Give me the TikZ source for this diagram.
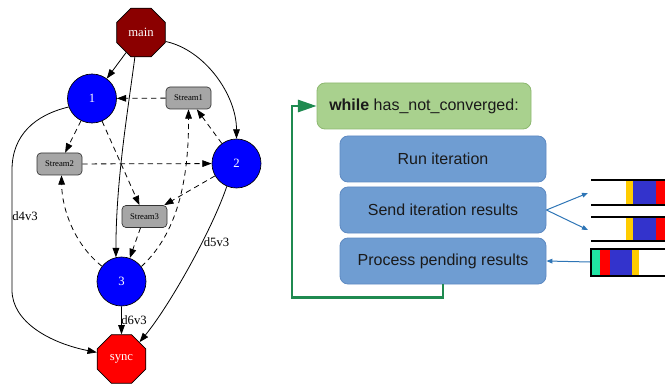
\documentclass[tikz,border=0pt]{standalone}
\usepackage{fontspec}
\setmainfont{Liberation Serif}
\newfontfamily\sansf{Liberation Sans}
\usetikzlibrary{shapes.geometric,arrows.meta}
\definecolor{mainred}{HTML}{8B0000}
\definecolor{streamgray}{HTML}{A6A6A6}
\definecolor{wfill}{HTML}{A9D18E}
\definecolor{wdraw}{HTML}{8DB870}
\definecolor{bfill}{HTML}{6F9DD2}
\definecolor{bdraw}{HTML}{5E8AC2}
\definecolor{loopgreen}{HTML}{1F8A50}
\definecolor{arrblue}{HTML}{2E75B6}
\definecolor{qyellow}{HTML}{FFCC00}
\definecolor{qblue}{HTML}{3333CC}
\definecolor{qred}{HTML}{FF0000}
\definecolor{qteal}{HTML}{20E3A3}
\definecolor{txtdark}{HTML}{1A1A1A}
\tikzset{
  oct/.style={regular polygon, regular polygon sides=8, minimum size=39.5pt, inner sep=0pt,
    draw=black, line width=0.5pt, text=white, font=\fontsize{9.5}{11}\selectfont},
  circ/.style={circle, minimum size=36.75pt, inner sep=0pt, draw=black, line width=0.5pt,
    fill=blue, text=white, font=\fontsize{9.5}{11}\selectfont},
  strm/.style={rectangle, rounded corners=3pt, minimum width=33.75pt, minimum height=16.5pt,
    inner sep=0pt, draw=black!80, line width=0.5pt, fill=streamgray, font=\fontsize{6.5}{7}\selectfont},
  gvarr/.style={line width=0.6pt, -{Triangle[length=7pt,width=5pt]}},
  gvdash/.style={gvarr, dash pattern=on 4pt off 3pt},
  elab/.style={font=\fontsize{9.5}{11}\selectfont, inner sep=0pt},
  whilebox/.style={rectangle, rounded corners=6pt, minimum width=160.5pt, minimum height=34.5pt,
    fill=wfill, draw=wdraw, line width=0.6pt, text=txtdark, font=\sansf\fontsize{12}{14}\selectfont},
  bluebox/.style={rectangle, rounded corners=6pt, minimum width=154.5pt, minimum height=34.5pt,
    fill=bfill, draw=bdraw, line width=0.6pt, text=txtdark, font=\sansf\fontsize{12}{14}\selectfont},
  greenloop/.style={draw=loopgreen, line width=2pt, -{Triangle[length=14pt,width=9pt]}},
  bluearr/.style={draw=arrblue, line width=0.75pt, -{Triangle[length=4.5pt,width=3.5pt]}},
  qline/.style={draw=black, line width=1.5pt},
}
\begin{document}
\begin{tikzpicture}[x=0.75pt,y=-0.75pt]
\useasboundingbox (0,0) rectangle (665,385);

% ---- graph nodes
\node[oct, fill=mainred] (main) at (141,32.5) {main};
\node[circ] (n1) at (92,98.5) {1};
\node[circ] (n2) at (236.5,163.5) {2};
\node[circ] (n3) at (121.5,281.5) {3};
\node[oct, fill=red] (sync) at (121.5,359) {sync};
\node[strm] (s1) at (188.5,98) {Stream1};
\node[strm] (s2) at (59.5,164) {Stream2};
\node[strm] (s3) at (144.5,216.5) {Stream3};

% ---- solid edges
\draw[gvarr] (main) -- (n1);
\draw[gvarr] (main.-104) .. controls (128,110) and (116,180) .. (n3.103);
\draw[gvarr] (main.-20) .. controls (205,50) and (236.5,95) .. (n2.north);
\draw[gvarr] (n1.-160) .. controls (35,115) and (12,135) .. (12,170) -- (12,290)
  .. controls (12,322) and (50,343) .. (sync.165);
\draw[gvarr] (n2.-113) .. controls (212,230) and (170,305) .. (sync.43);
\draw[gvarr] (n3) -- (sync);

% ---- edge labels
\node[elab] (l4) at (25,216) {d4v3};
\node[elab] (l5) at (216.5,242) {d5v3};
\node[elab] (l6) at (134,320) {d6v3};

% ---- dashed edges
\draw[gvdash] (s1) -- (n1);
\draw[gvdash] (n1) -- (s2);
\draw[gvdash] (n1) -- (s3);
\draw[gvdash] (s2) -- (n2);
\draw[gvdash] (n2) -- (s1);
\draw[gvdash] (n2) -- (s3);
\draw[gvdash] (s3) -- (n3);
\draw[gvdash] (n3.142) .. controls (75,245) and (62,210) .. (s2.-80);
\draw[gvdash] (n3.37) .. controls (168,242) and (189,200) .. (s1.south);

% ---- right side boxes
\node[whilebox] (wh) at (424,106) {\textbf{while} has\_not\_converged:};
\node[bluebox] (run) at (443,159) {Run iteration};
\node[bluebox] (send) at (443,210) {Send iteration results};
\node[bluebox] (proc) at (443,261) {Process pending results};

\draw[greenloop] (proc.south) -- (443,297.5) -- (292,297.5) -- (292,106) -- (wh.west);

% ---- queues
\coordinate (q1in) at (588,193);
\coordinate (q2in) at (588,230);
\coordinate (q3out) at (590,262);

\fill[qyellow] (626,181) rectangle (633,205);
\fill[qblue] (633,181) rectangle (656,205);
\fill[qred] (656,181) rectangle (665,205);
\draw[qline] (591,180.5) -- (665,180.5);
\draw[qline] (591,205.5) -- (665,205.5);

\fill[qyellow] (626,218) rectangle (633,240);
\fill[qblue] (633,218) rectangle (656,240);
\fill[qred] (656,218) rectangle (665,240);
\draw[qline] (591,217) -- (665,217);
\draw[qline] (591,241) -- (665,241);

\fill[qteal] (591,249) rectangle (599.5,276);
\fill[qred] (599.5,249) rectangle (609.5,276);
\fill[qblue] (609.5,249) rectangle (632,276);
\fill[qyellow] (632,249) rectangle (638.5,276);
\draw[qline] (665,249) -- (590.5,249) -- (590.5,276) -- (665,276);

\draw[bluearr] (send.east) -- (q1in);
\draw[bluearr] (send.east) -- (q2in);
\draw[bluearr] (q3out) -- (proc.east);
\end{tikzpicture}
\end{document}
